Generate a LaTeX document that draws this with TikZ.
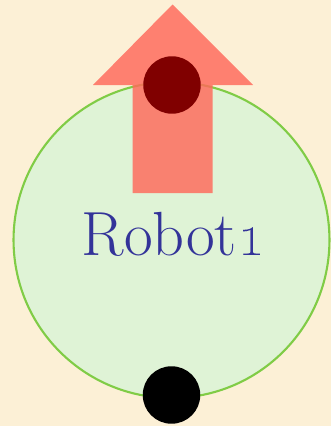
\documentclass[tikz,border=0pt]{standalone}
\definecolor{parchment}{RGB}{252,240,214}
\definecolor{robotfill}{RGB}{223,243,214}
\definecolor{robotline}{RGB}{128,204,70}
\definecolor{arrowred}{RGB}{255,104,90}
\definecolor{headred}{RGB}{128,0,0}
\definecolor{labelblue}{RGB}{51,51,153}
\tikzset{
  robotbody/.style={circle, draw=robotline, fill=robotfill, line width=1.2pt, minimum size=6.32cm, inner sep=0pt},
  dirarrow/.style={fill=arrowred, fill opacity=0.82},
  dotnode/.style={circle, minimum size=1.15cm, inner sep=0pt},
  robotlabel/.style={text=labelblue, font=\fontsize{35.5}{42}\selectfont, inner sep=0pt}
}
\begin{document}
\begin{tikzpicture}[x=0.02cm,y=-0.02cm]
\fill[parchment] (0,0) rectangle (331,426);
\useasboundingbox (0,0) rectangle (331,426);
\node[robotbody] (robot) at (171.5,240) {};
\fill[dirarrow] (132.5,193) -- (132.5,85) -- (93,85) -- (172.5,4.5) -- (253,85) -- (212.5,85) -- (212.5,193) -- cycle;
\node[dotnode, fill=headred] (front) at (172,85) {};
\node[dotnode, fill=black] (back) at (171.5,395) {};
\node[robotlabel, anchor=base] (name) at (173.5,255) {Robot\oldstylenums{1}};
\end{tikzpicture}
\end{document}
